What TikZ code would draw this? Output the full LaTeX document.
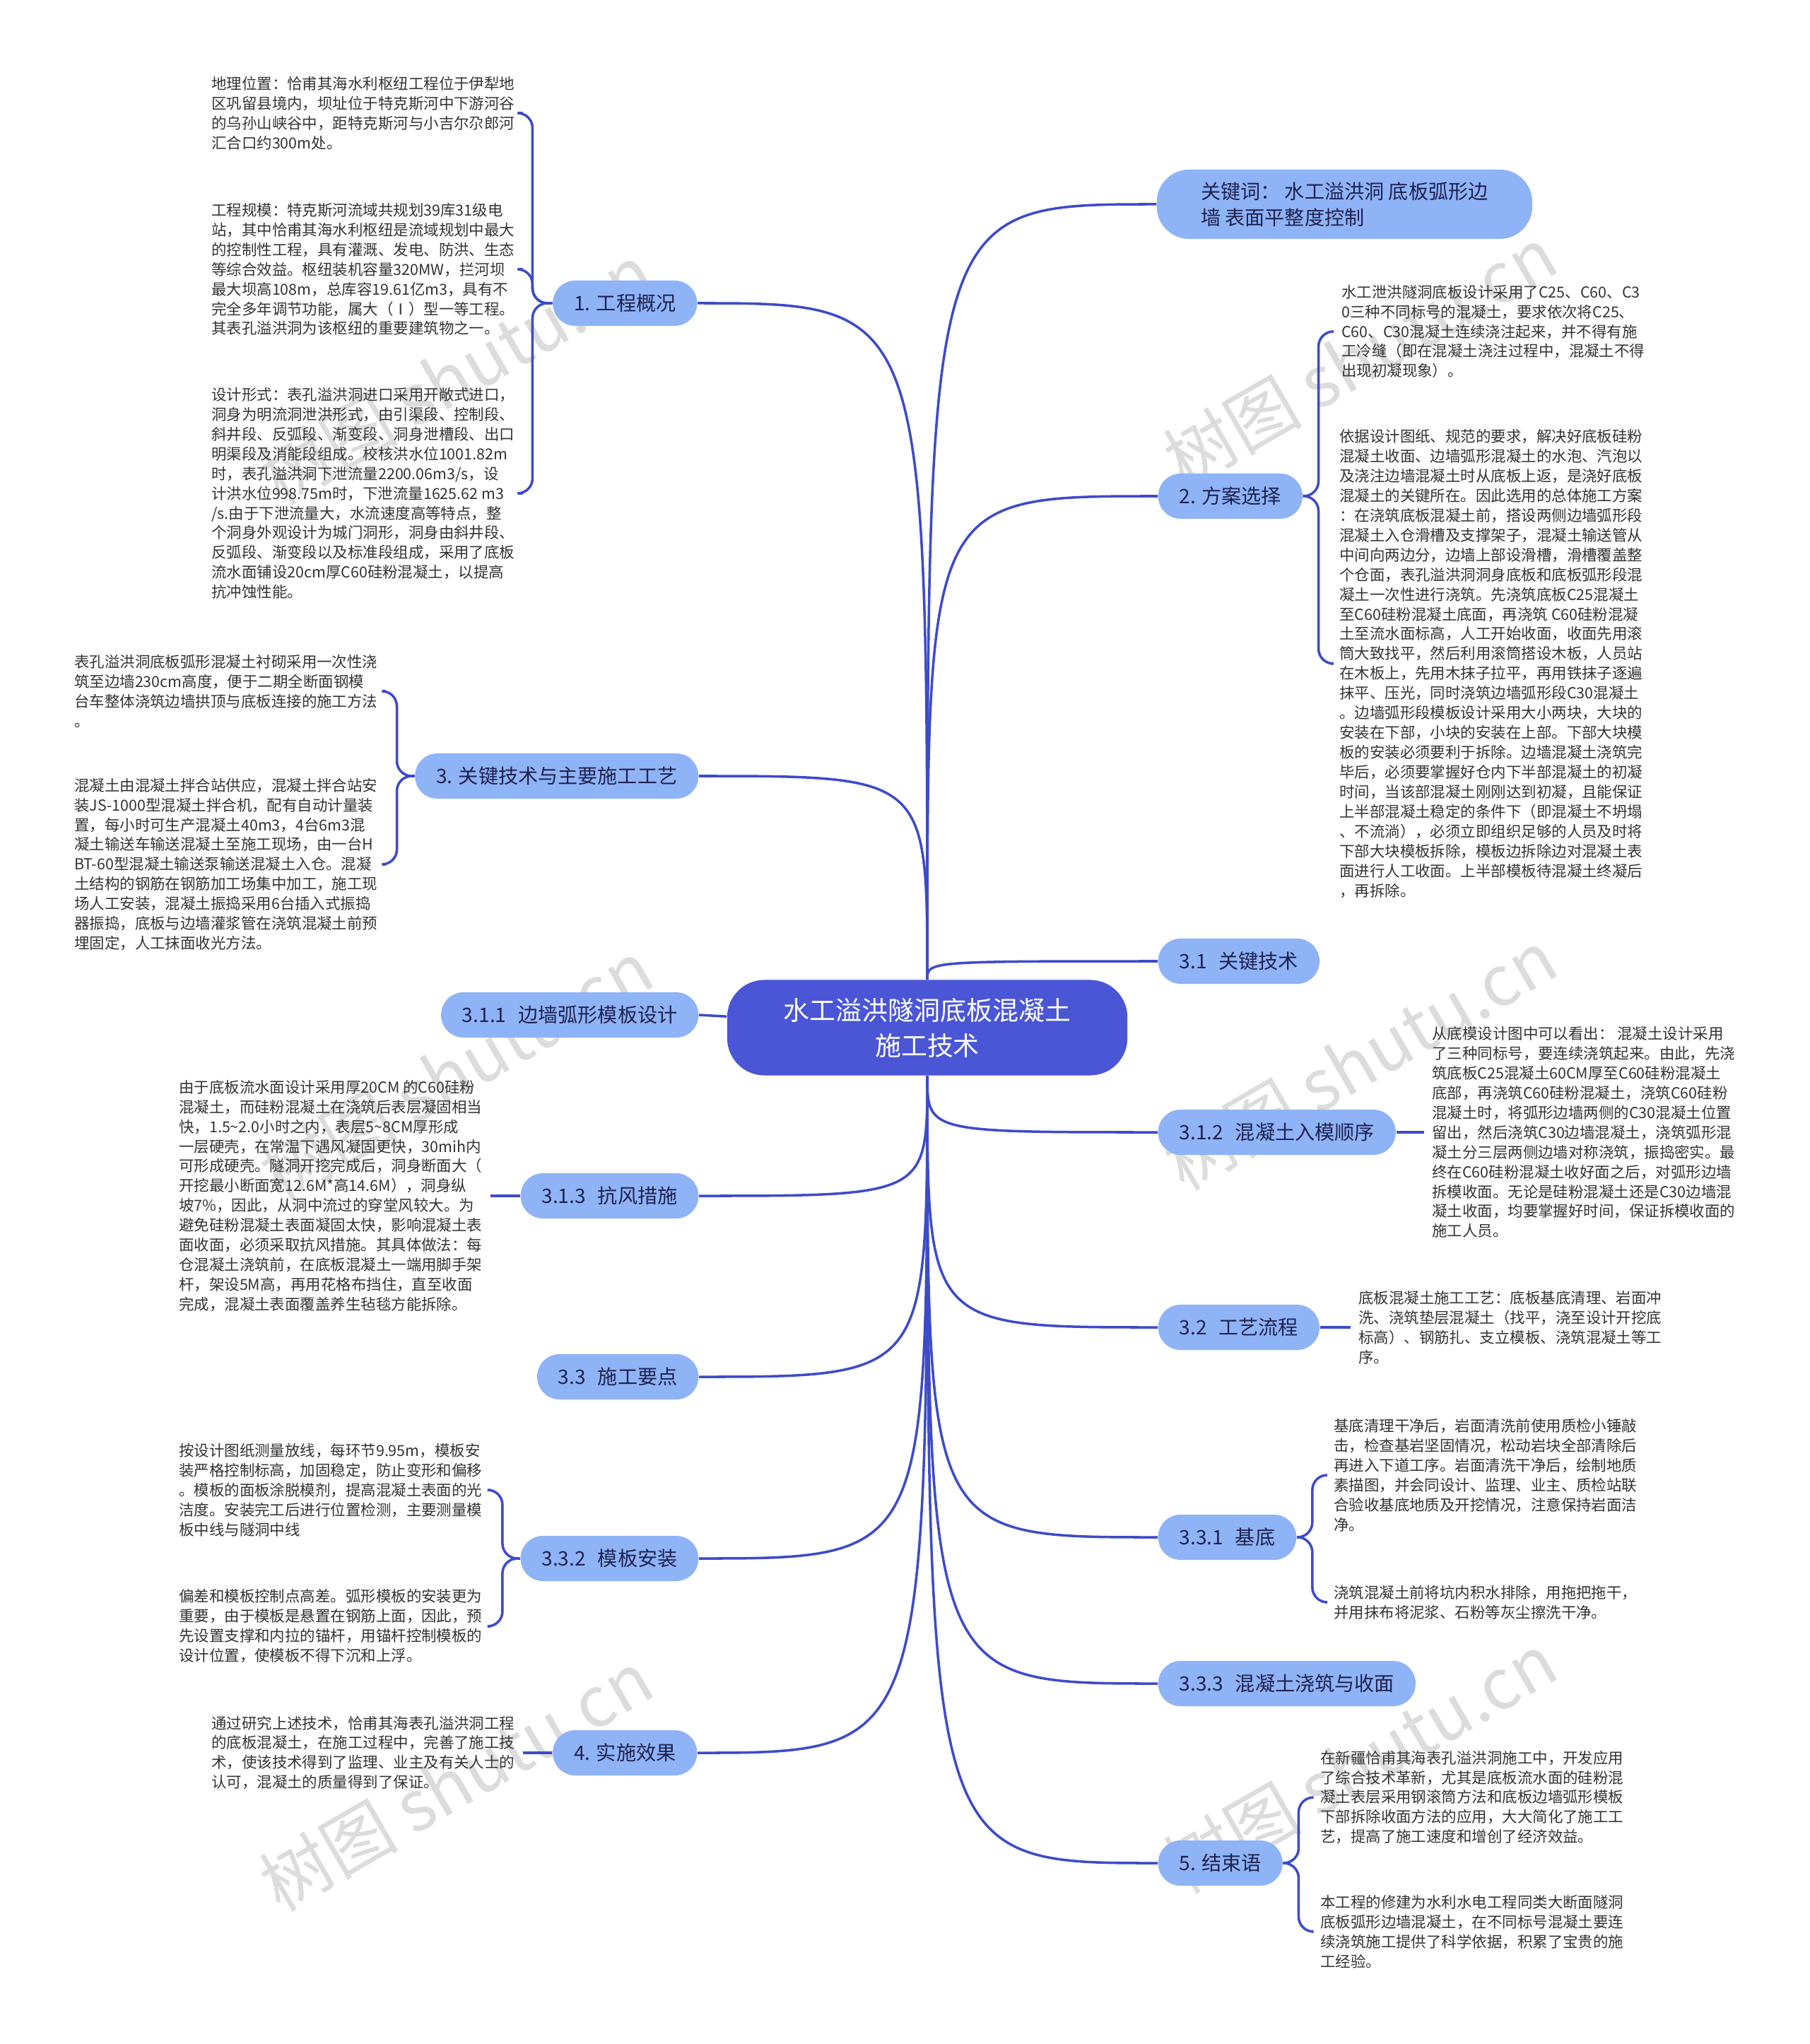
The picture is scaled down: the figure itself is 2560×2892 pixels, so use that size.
\documentclass[tikz,border=0pt]{standalone}
\usepackage{fontspec}
\setmainfont{Noto Sans CJK SC}

\definecolor{rootblue}{HTML}{4A56D6}
\definecolor{topicblue}{HTML}{8FB3F7}
\definecolor{topictext}{HTML}{1E2250}
\definecolor{linkblue}{HTML}{3D4BC9}
\definecolor{markgray}{HTML}{DCDCDC}

\newcommand*{\detailfont}{\fontsize{6.1}{7.95}\selectfont}
\newcommand*{\topicfont}{\fontsize{8}{10.5}\selectfont}
\newcommand*{\tgap}{\hspace{0.6em}}

\begin{document}
\begin{tikzpicture}
[
	x=0.01cm, y=-0.01cm,
	root/.style={fill=rootblue,text=white,rounded corners=15pt,align=center,minimum width=5.66cm,minimum height=1.35cm,font=\fontsize{10.5}{14.2}\selectfont},
	topic/.style={fill=topicblue,text=topictext,rounded corners=9pt,minimum height=0.64cm,inner xsep=8.5pt,inner ysep=0pt,font=\topicfont},
	detail/.style={anchor=west,align=left,inner xsep=3pt,inner ysep=0pt,text=black!80,font=\detailfont},
	link/.style={draw=linkblue,line width=1pt},
	brace/.style={link,rounded corners=6pt},
	wmark/.style={text=markgray,rotate=30,font=\fontsize{28}{28}\selectfont}
]

	% page
	\fill[white] (0,0) rectangle (2560,2892);
	\useasboundingbox (0,0) rectangle (2560,2892);

	% watermarks
	\node[wmark] (wm1) at (645,530) {树图 shutu.cn};
	\node[wmark] (wm2) at (645,1515) {树图 shutu.cn};
	\node[wmark] (wm3) at (645,2520) {树图 shutu.cn};
	\node[wmark] (wm4) at (1924,505) {树图 shutu.cn};
	\node[wmark] (wm5) at (1924,1500) {树图 shutu.cn};
	\node[wmark] (wm6) at (1924,2495) {树图 shutu.cn};

	% center
	\node[root] (title) at (1312,1454) {水工溢洪隧洞底板混凝土\\施工技术};

	% left topics
	\node[topic,anchor=east] (overview) at (987,429) {1. 工程概况};
	\node[topic,anchor=east] (keytech) at (989,1098) {3. 关键技术与主要施工工艺};
	\node[topic,anchor=east] (formwork) at (989,1436) {3.1.1\tgap 边墙弧形模板设计};
	\node[topic,anchor=east] (windproof) at (989,1692) {3.1.3\tgap 抗风措施};
	\node[topic,anchor=east] (mainpoints) at (989,1948) {3.3\tgap 施工要点};
	\node[topic,anchor=east] (install) at (989,2205) {3.3.2\tgap 模板安装};
	\node[topic,anchor=east] (effect) at (987,2480) {4. 实施效果};

	% right topics
	\node[topic,anchor=west,align=left,rounded corners=13pt,minimum height=0.98cm,minimum width=5.31cm] (keywords) at (1636,289) {关键词： 水工溢洪洞 底板弧形边\\墙 表面平整度控制};
	\node[topic,anchor=west] (scheme) at (1638,702) {2. 方案选择};
	\node[topic,anchor=west] (keytechB) at (1638,1360) {3.1\tgap 关键技术};
	\node[topic,anchor=west] (order) at (1638,1602) {3.1.2\tgap 混凝土入模顺序};
	\node[topic,anchor=west] (process) at (1638,1878) {3.2\tgap 工艺流程};
	\node[topic,anchor=west] (base) at (1638,2175) {3.3.1\tgap 基底};
	\node[topic,anchor=west] (pouring) at (1638,2382) {3.3.3\tgap 混凝土浇筑与收面};
	\node[topic,anchor=west] (closing) at (1638,2636) {5. 结束语};

	% links to the center
	\draw[link] (title) .. controls (title |- overview.east) .. (overview.east);
	\draw[link] (title) .. controls (title |- keytech.east) .. (keytech.east);
	\draw[link] (title) -- (formwork.east);
	\draw[link] (title) .. controls (title |- windproof.east) .. (windproof.east);
	\draw[link] (title) .. controls (title |- mainpoints.east) .. (mainpoints.east);
	\draw[link] (title) .. controls (title |- install.east) .. (install.east);
	\draw[link] (title) .. controls (title |- effect.east) .. (effect.east);
	\draw[link] (title) .. controls (title |- keywords.west) .. (keywords.west);
	\draw[link] (title) .. controls (title |- scheme.west) .. (scheme.west);
	\draw[link] (title) .. controls (title |- keytechB.west) .. (keytechB.west);
	\draw[link] (title) .. controls (title |- order.west) .. (order.west);
	\draw[link] (title) .. controls (title |- process.west) .. (process.west);
	\draw[link] (title) .. controls (title |- base.west) .. (base.west);
	\draw[link] (title) .. controls (title |- pouring.west) .. (pouring.west);
	\draw[link] (title) .. controls (title |- closing.west) .. (closing.west);

	% left details
	\node[detail] (overviewA) at (288,160) {地理位置：恰甫其海水利枢纽工程位于伊犁地\\
区巩留县境内，坝址位于特克斯河中下游河谷\\
的乌孙山峡谷中，距特克斯河与小吉尔尕郎河\\
汇合口约300m处。};
	\node[detail] (overviewB) at (288,381) {工程规模：特克斯河流域共规划39库31级电\\
站，其中恰甫其海水利枢纽是流域规划中最大\\
的控制性工程，具有灌溉、发电、防洪、生态\\
等综合效益。枢纽装机容量320MW，拦河坝\\
最大坝高108m，总库容19.61亿m3，具有不\\
完全多年调节功能，属大（Ⅰ）型一等工程。\\
其表孔溢洪洞为该枢纽的重要建筑物之一。};
	\node[detail] (overviewC) at (288,698) {设计形式：表孔溢洪洞进口采用开敞式进口，\\
洞身为明流洞泄洪形式，由引渠段、控制段、\\
斜井段、反弧段、渐变段、洞身泄槽段、出口\\
明渠段及消能段组成。校核洪水位1001.82m\\
时，表孔溢洪洞下泄流量2200.06m3/s，设\\
计洪水位998.75m时，下泄流量1625.62 m3\\
/s.由于下泄流量大，水流速度高等特点，整\\
个洞身外观设计为城门洞形，洞身由斜井段、\\
反弧段、渐变段以及标准段组成，采用了底板\\
流水面铺设20cm厚C60硅粉混凝土，以提高\\
抗冲蚀性能。};
	\node[detail] (keytechA) at (94,978) {表孔溢洪洞底板弧形混凝土衬砌采用一次性浇\\
筑至边墙230cm高度，便于二期全断面钢模\\
台车整体浇筑边墙拱顶与底板连接的施工方法\\
。};
	\node[detail] (keytechC) at (94,1223) {混凝土由混凝土拌合站供应，混凝土拌合站安\\
装JS-1000型混凝土拌合机，配有自动计量装\\
置，每小时可生产混凝土40m3，4台6m3混\\
凝土输送车输送混凝土至施工现场，由一台H\\
BT-60型混凝土输送泵输送混凝土入仓。混凝\\
土结构的钢筋在钢筋加工场集中加工，施工现\\
场人工安装，混凝土振捣采用6台插入式振捣\\
器振捣，底板与边墙灌浆管在浇筑混凝土前预\\
埋固定，人工抹面收光方法。};
	\node[detail] (windproofT) at (242,1692) {由于底板流水面设计采用厚20CM 的C60硅粉\\
混凝土，而硅粉混凝土在浇筑后表层凝固相当\\
快，1.5\textasciitilde 2.0小时之内，表层5\textasciitilde 8CM厚形成\\
一层硬壳，在常温下遇风凝固更快，30mih内\\
可形成硬壳。隧洞开挖完成后，洞身断面大（\\
开挖最小断面宽12.6M*高14.6M），洞身纵\\
坡7\%，因此，从洞中流过的穿堂风较大。为\\
避免硅粉混凝土表面凝固太快，影响混凝土表\\
面收面，必须采取抗风措施。其具体做法：每\\
仓混凝土浇筑前，在底板混凝土一端用脚手架\\
杆，架设5M高，再用花格布挡住，直至收面\\
完成，混凝土表面覆盖养生毡毯方能拆除。};
	\node[detail] (installA) at (242,2108) {按设计图纸测量放线，每环节9.95m，模板安\\
装严格控制标高，加固稳定，防止变形和偏移\\
。模板的面板涂脱模剂，提高混凝土表面的光\\
洁度。安装完工后进行位置检测，主要测量模\\
板中线与隧洞中线};
	\node[detail] (installB) at (242,2301) {偏差和模板控制点高差。弧形模板的安装更为\\
重要，由于模板是悬置在钢筋上面，因此，预\\
先设置支撑和内拉的锚杆，用锚杆控制模板的\\
设计位置，使模板不得下沉和上浮。};
	\node[detail] (effectT) at (288,2480) {通过研究上述技术，恰甫其海表孔溢洪洞工程\\
的底板混凝土，在施工过程中，完善了施工技\\
术，使该技术得到了监理、业主及有关人士的\\
认可，混凝土的质量得到了保证。};

	% right details
	\node[detail] (schemeA) at (1887,469) {水工泄洪隧洞底板设计采用了C25、C60、C3\\
0三种不同标号的混凝土，要求依次将C25、\\
C60、C30混凝土连续浇注起来，并不得有施\\
工冷缝（即在混凝土浇注过程中，混凝土不得\\
出现初凝现象）。};
	\node[detail] (schemeB) at (1884,939) {依据设计图纸、规范的要求，解决好底板硅粉\\
混凝土收面、边墙弧形混凝土的水泡、汽泡以\\
及浇注边墙混凝土时从底板上返，是浇好底板\\
混凝土的关键所在。因此选用的总体施工方案\\
：在浇筑底板混凝土前，搭设两侧边墙弧形段\\
混凝土入仓滑槽及支撑架子，混凝土输送管从\\
中间向两边分，边墙上部设滑槽，滑槽覆盖整\\
个仓面，表孔溢洪洞洞身底板和底板弧形段混\\
凝土一次性进行浇筑。先浇筑底板C25混凝土\\
至C60硅粉混凝土底面，再浇筑 C60硅粉混凝\\
土至流水面标高，人工开始收面，收面先用滚\\
筒大致找平，然后利用滚筒搭设木板，人员站\\
在木板上，先用木抹子拉平，再用铁抹子逐遍\\
抹平、压光，同时浇筑边墙弧形段C30混凝土\\
。边墙弧形段模板设计采用大小两块，大块的\\
安装在下部，小块的安装在上部。下部大块模\\
板的安装必须要利于拆除。边墙混凝土浇筑完\\
毕后，必须要掌握好仓内下半部混凝土的初凝\\
时间，当该部混凝土刚刚达到初凝，且能保证\\
上半部混凝土稳定的条件下（即混凝土不坍塌\\
、不流淌），必须立即组织足够的人员及时将\\
下部大块模板拆除，模板边拆除边对混凝土表\\
面进行人工收面。上半部模板待混凝土终凝后\\
，再拆除。};
	\node[detail] (orderT) at (2015,1602) {从底模设计图中可以看出： 混凝土设计采用\\
了三种同标号，要连续浇筑起来。由此，先浇\\
筑底板C25混凝土60CM厚至C60硅粉混凝土\\
底部，再浇筑C60硅粉混凝土，浇筑C60硅粉\\
混凝土时，将弧形边墙两侧的C30混凝土位置\\
留出，然后浇筑C30边墙混凝土，浇筑弧形混\\
凝土分三层两侧边墙对称浇筑，振捣密实。最\\
终在C60硅粉混凝土收好面之后，对弧形边墙\\
拆模收面。无论是硅粉混凝土还是C30边墙混\\
凝土收面，均要掌握好时间，保证拆模收面的\\
施工人员。};
	\node[detail] (processT) at (1911,1878) {底板混凝土施工工艺：底板基底清理、岩面冲\\
洗、浇筑垫层混凝土（找平，浇至设计开挖底\\
标高）、钢筋扎、支立模板、浇筑混凝土等工\\
序。};
	\node[detail] (baseA) at (1876,2087) {基底清理干净后，岩面清洗前使用质检小锤敲\\
击，检查基岩坚固情况，松动岩块全部清除后\\
再进入下道工序。岩面清洗干净后，绘制地质\\
素描图，并会同设计、监理、业主、质检站联\\
合验收基底地质及开挖情况，注意保持岩面洁\\
净。};
	\node[detail] (baseB) at (1876,2267) {浇筑混凝土前将坑内积水排除，用拖把拖干，\\
并用抹布将泥浆、石粉等灰尘擦洗干净。};
	\node[detail] (closingA) at (1857,2543) {在新疆恰甫其海表孔溢洪洞施工中，开发应用\\
了综合技术革新，尤其是底板流水面的硅粉混\\
凝土表层采用钢滚筒方法和底板边墙弧形模板\\
下部拆除收面方法的应用，大大简化了施工工\\
艺，提高了施工速度和增创了经济效益。};
	\node[detail] (closingB) at (1857,2733) {本工程的修建为水利水电工程同类大断面隧洞\\
底板弧形边墙混凝土，在不同标号混凝土要连\\
续浇筑施工提供了科学依据，积累了宝贵的施\\
工经验。};

	% links to the details
	\draw[brace] (overview.west) -- ++(-28,0) |- (overviewA.east);
	\draw[brace] (overview.west) -- ++(-28,0) |- (overviewB.east);
	\draw[brace] (overview.west) -- ++(-28,0) |- (overviewC.east);
	\draw[brace] (keytech.west) -- ++(-25,0) |- (keytechA.east);
	\draw[brace] (keytech.west) -- ++(-25,0) |- (keytechC.east);
	\draw[link] (windproof.west) -- (windproofT.east);
	\draw[brace] (install.west) -- ++(-25,0) |- (installA.east);
	\draw[brace] (install.west) -- ++(-25,0) |- (installB.east);
	\draw[link] (effect.west) -- (effectT.east);
	\draw[brace] (scheme.east) -- ++(22,0) |- (schemeA.west);
	\draw[brace] (scheme.east) -- ++(22,0) |- (schemeB.west);
	\draw[link] (order.east) -- (orderT.west);
	\draw[link] (process.east) -- (processT.west);
	\draw[brace] (base.east) -- ++(22,0) |- (baseA.west);
	\draw[brace] (base.east) -- ++(22,0) |- (baseB.west);
	\draw[brace] (closing.east) -- ++(22,0) |- (closingA.west);
	\draw[brace] (closing.east) -- ++(22,0) |- (closingB.west);

\end{tikzpicture}
\end{document}
